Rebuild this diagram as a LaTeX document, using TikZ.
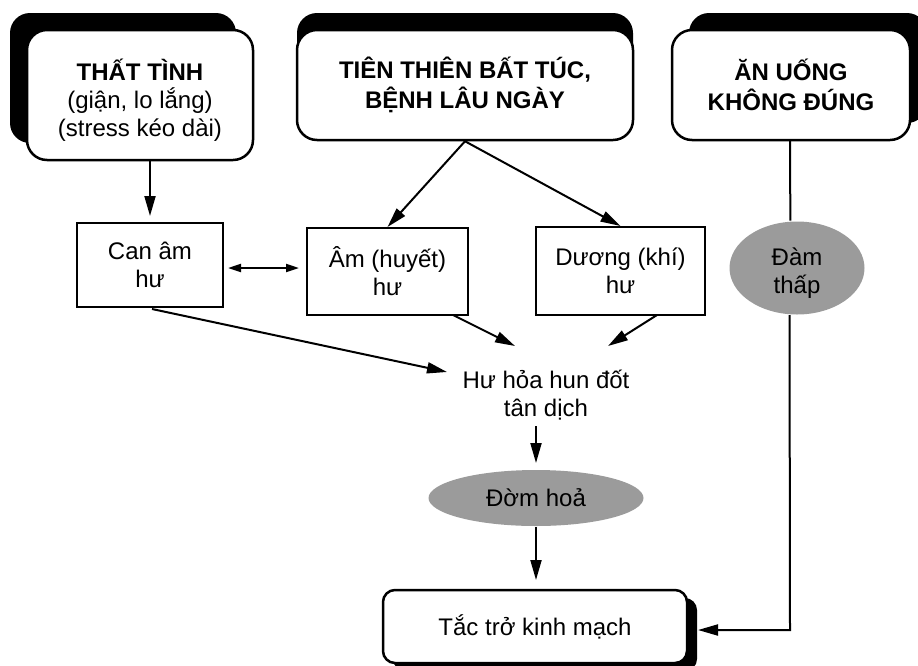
\documentclass[tikz,border=0pt]{standalone}
\usepackage{fontspec}
\setmainfont{Liberation Sans}
\usetikzlibrary{shapes.geometric,shadows,arrows.meta}
\definecolor{dam_grey}{RGB}{155,155,155}
\tikzstyle{src}=[rectangle,rounded corners=20pt,fill=white,draw=black,
  line width=2.5pt,align=center,inner sep=0pt]
\tikzstyle{srcl}=[src,drop shadow={shadow xshift=-17pt,shadow yshift=17pt,
  opacity=1,fill=black}]
\tikzstyle{srcm}=[src,drop shadow={shadow xshift=0pt,shadow yshift=17pt,
  opacity=1,fill=black}]
\tikzstyle{srcr}=[src,drop shadow={shadow xshift=17pt,shadow yshift=17pt,
  opacity=1,fill=black}]
\tikzstyle{xu}=[rectangle,draw=black,fill=white,line width=2pt,align=center,
  inner sep=0pt]
\tikzstyle{dam}=[ellipse,fill=dam_grey,align=center,inner sep=0pt]
\tikzstyle{blk}=[rectangle,rounded corners=12pt,fill=white,draw=black,
  line width=2.5pt,inner sep=0pt,drop shadow={shadow xshift=10pt,
  shadow yshift=-8pt,opacity=1,fill=black}]
\tikzstyle{plain}=[align=center]
\tikzstyle{none}=[]

\begin{document}
\begin{tikzpicture}[x=1pt, y=-1pt, line width=2pt,
    >={Triangle[length=20pt,width=11pt]},
    every node/.style={font=\fontsize{24}{28}\selectfont}]
    \useasboundingbox (0,0) rectangle (918,665);
    \node [style=srcl, minimum width=226pt, minimum height=130pt] (0) at (140, 95) {\rule{0pt}{32pt}\textbf{THẤT TÌNH}\\(giận, lo lắng)\\(stress kéo dài)};
    \node [style=srcm, minimum width=336pt, minimum height=110pt, font=\fontsize{24}{30}\selectfont\bfseries] (1) at (465, 85) {TIÊN THIÊN BẤT TÚC,\\BỆNH LÂU NGÀY};
    \node [style=srcr, minimum width=238pt, minimum height=110pt, font=\fontsize{24}{30}\selectfont\bfseries] (2) at (791, 85) {ĂN UỐNG\\KHÔNG ĐÚNG};
    \node [style=xu, minimum width=146pt, minimum height=84pt] (3) at (150, 265) {Can âm\\hư};
    \node [style=xu, minimum width=161pt, minimum height=87pt] (4) at (387.5, 271.5) {Âm (huyết)\\hư};
    \node [style=xu, minimum width=169pt, minimum height=88pt] (5) at (620.5, 271) {Dương (khí)\\hư};
    \node [style=plain] (6) at (546, 395) {Hư hỏa hun đốt\\tân dịch};
    \node [style=dam, minimum width=215pt, minimum height=56pt] (7) at (536, 498) {Đờm hoả};
    \node [style=dam, minimum width=135pt, minimum height=93pt] (8) at (797, 268) {\rule{0pt}{28pt}Đàm\\thấp};
    \node [style=blk, minimum width=304pt, minimum height=73pt] (9) at (535, 626.5) {Tắc trở kinh mạch};
    \node [style=none] (10) at (150, 160) {};
    \node [style=none] (11) at (150, 216) {};
    \node [style=none] (12) at (228, 268) {};
    \node [style=none] (13) at (299, 268) {};
    \node [style=none] (14) at (152, 309) {};
    \node [style=none] (15) at (447, 372) {};
    \node [style=none] (16) at (453, 315) {};
    \node [style=none] (17) at (515, 346) {};
    \node [style=none] (18) at (657, 315) {};
    \node [style=none] (19) at (608, 346) {};
    \node [style=none] (20) at (536, 426) {};
    \node [style=none] (21) at (536, 463) {};
    \node [style=none] (22) at (536, 580) {};
    \node [style=none] (23) at (790, 140) {};
    \node [style=none] (24) at (790, 630) {};
    \node [style=none] (25) at (698, 630) {};
    \draw [->] (10.center) to (11.center);
    \draw [<->, >={Triangle[length=13pt,width=8pt]}] (12.center) to (13.center);
    \draw [->] (1.south) to (4.north);
    \draw [->] (1.south) to (5.north);
    \draw [->] (14.center) to (15.center);
    \draw [->] (16.center) to (17.center);
    \draw [->] (18.center) to (19.center);
    \draw [->] (20.center) to (21.center);
    \draw [->] (7.south) to (22.center);
    \draw (23.center) to (8.98.6);
    \draw [->] (8.261.4) -- (24.center) -- (25.center);
\end{tikzpicture}
\end{document}
